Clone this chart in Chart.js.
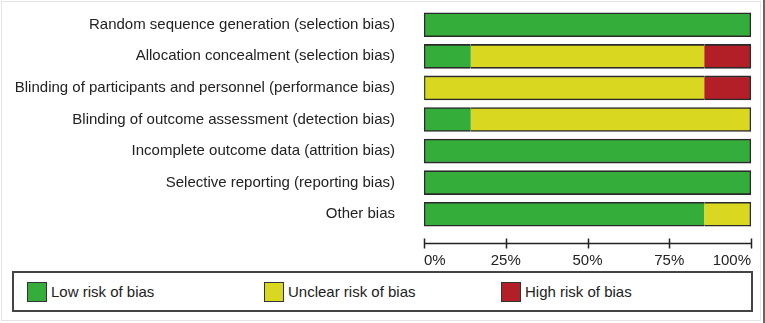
<!DOCTYPE html>
<html>
<head>
<meta charset="utf-8">
<script src="https://cdn.jsdelivr.net/npm/chart.js@4/dist/chart.umd.min.js"></script>
<style>
  html, body { margin: 0; padding: 0; background: #fff; }
  #frame { position: relative; width: 765px; height: 323px; overflow: hidden; background: #fff;
           font-family: "Liberation Sans", Arial, sans-serif; }
  #edge { position: absolute; left: 1px; top: 1px; width: 760px; height: 320px; border: 1px solid #e4e4e4; box-sizing: border-box; }
  #rightbar { position: absolute; left: 763px; top: 0; width: 2px; height: 323px; background: #666; }
  #wrap { position: absolute; left: 0; top: 0; width: 765px; height: 270px; }
  #legend { position: absolute; left: 12px; top: 271px; width: 741px; height: 41px; box-sizing: border-box;
            border: 2px solid #444; background: #fff; }
  .item { position: absolute; top: 8px; height: 21px; display: flex; align-items: center; font-size: 15px; color: #222; }
  .sw { width: 18px; height: 18px; border: 1.5px solid #333; margin-right: 4px; }
</style>
</head>
<body>
<div id="frame">
  <div id="edge"></div>
  <div id="rightbar"></div>
  <div id="wrap"><canvas id="c" width="765" height="270"></canvas></div>
  <div id="legend"></div>
</div>
<script>
const categories = [
  "Random sequence generation (selection bias)",
  "Allocation concealment (selection bias)",
  "Blinding of participants and personnel (performance bias)",
  "Blinding of outcome assessment (detection bias)",
  "Incomplete outcome data (attrition bias)",
  "Selective reporting (reporting bias)",
  "Other bias"
];
const seriesNames = ["Low risk of bias", "Unclear risk of bias", "High risk of bias"];
const lowRisk     = [100, 14.3, 0,    14.3, 100, 100, 85.7];
const unclearRisk = [0,   71.4, 85.7, 85.7, 0,   0,   14.3];
const highRisk    = [0,   14.3, 14.3, 0,    0,   0,   0];
const seriesColors = ["#34ad3a", "#d9d71f", "#b31f26"];
const tickValues = [0, 25, 50, 75, 100];
const tickLabels = ["0%", "25%", "50%", "75%", "100%"];

const allSeries = [lowRisk, unclearRisk, highRisk];
const BW = 1.6;

function borderFor(ctx) {
  const i = ctx.dataIndex, d = ctx.datasetIndex;
  const v = allSeries[d][i];
  if (!v) return 0;
  let first = true, last = true;
  for (let k = 0; k < d; k++) if (allSeries[k][i] > 0) first = false;
  for (let k = d + 1; k < allSeries.length; k++) if (allSeries[k][i] > 0) last = false;
  return { top: BW, bottom: BW, left: first ? BW : 0, right: last ? BW : 0 };
}

const axisPlugin = {
  id: 'axisLine',
  afterDraw(chart) {
    const x = chart.scales.x, ca = chart.chartArea, c = chart.ctx;
    const y = ca.bottom + 13.5;
    c.save();
    c.strokeStyle = '#222';
    c.lineWidth = 1.5;
    c.beginPath();
    c.moveTo(x.getPixelForValue(tickValues[0]), y);
    c.lineTo(x.getPixelForValue(tickValues[tickValues.length - 1]), y);
    tickValues.forEach(v => {
      const px = Math.round(x.getPixelForValue(v)) + 0.5;
      c.moveTo(px, y - 5);
      c.lineTo(px, y + 5);
    });
    c.stroke();
    c.restore();
  }
};

new Chart(document.getElementById('c'), {
  type: 'bar',
  data: {
    labels: categories,
    datasets: allSeries.map((arr, k) => ({
      label: seriesNames[k],
      data: arr,
      backgroundColor: seriesColors[k],
      borderColor: '#2a2a2a',
      borderWidth: borderFor,
      borderSkipped: false,
      barThickness: 24
    }))
  },
  plugins: [axisPlugin],
  options: {
    indexAxis: 'y',
    responsive: false,
    animation: false,
    layout: { padding: { top: 9, right: 14, bottom: 0, left: 0 } },
    plugins: { legend: { display: false }, tooltip: { enabled: false } },
    scales: {
      x: {
        stacked: true,
        min: 0, max: 100,
        afterBuildTicks(s) { s.ticks = tickValues.map(v => ({ value: v })); },
        afterFit(s) { s.paddingLeft = 0; s.paddingRight = 0; s.height = 40; },
        grid: { display: false },
        border: { display: false },
        ticks: {
          align: 'inner',
          padding: 14,
          color: '#222',
          font: { family: '"Liberation Sans", Arial, sans-serif', size: 15 },
          callback: (v) => tickLabels[tickValues.indexOf(v)]
        }
      },
      y: {
        stacked: true,
        afterFit(s) { s.width = 424; s.paddingTop = 0; s.paddingBottom = 0; },
        grid: { display: false },
        border: { display: false },
        ticks: {
          padding: 21,
          color: '#222',
          font: { family: '"Liberation Sans", Arial, sans-serif', size: 15 }
        }
      }
    }
  }
});

const legendLefts = [13, 250, 487];
const leg = document.getElementById('legend');
seriesNames.forEach((n, k) => {
  const it = document.createElement('div');
  it.className = 'item';
  it.style.left = legendLefts[k] + 'px';
  const sw = document.createElement('div');
  sw.className = 'sw';
  sw.style.background = seriesColors[k];
  const t = document.createElement('span');
  t.textContent = n;
  it.appendChild(sw); it.appendChild(t);
  leg.appendChild(it);
});
</script>
</body>
</html>
